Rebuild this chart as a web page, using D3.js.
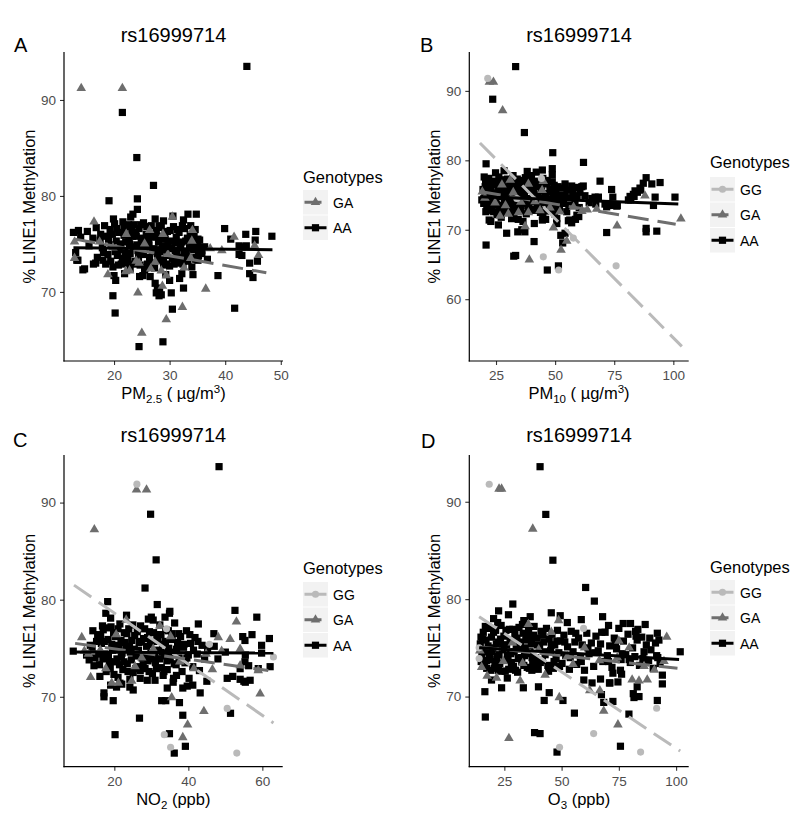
<!DOCTYPE html>
<html><head><meta charset="utf-8">
<script src="https://cdn.jsdelivr.net/npm/d3@7"></script>
<style>body{margin:0;background:#fff}svg{display:block}text{font-family:"Liberation Sans",Arial,sans-serif}</style>
</head><body>
<svg id="chart" width="800" height="817"></svg>
<script>
// ---------------- categories / labels ----------------
const genotypes = ["GG", "GA", "AA"];
const panelLetters = ["A", "B", "C", "D"];
const panelTitle = "rs16999714";
const yAxisTitle = "% LINE1 Methylation";
const legendTitle = "Genotypes";
const xTicksA = [20, 30, 40, 50];
const xTicksB = [25, 50, 75, 100];
const xTicksC = [20, 40, 60];
const xTicksD = [25, 50, 75, 100];
const yTicksA = [70, 80, 90];
const yTicksB = [60, 70, 80, 90];
const yTicksC = [70, 80, 90];
const yTicksD = [70, 80, 90];
const xLabelA = [["PM", ""], ["2.5", "sub"], [" ( \u00b5g/m", ""], ["3", "sup"], [")", ""]];
const xLabelB = [["PM", ""], ["10", "sub"], [" ( \u00b5g/m", ""], ["3", "sup"], [")", ""]];
const xLabelC = [["NO", ""], ["2", "sub"], [" (ppb)", ""]];
const xLabelD = [["O", ""], ["3", "sub"], [" (ppb)", ""]];

// ---------------- Panel A: PM2.5 ----------------
const aaA = [[43.9,93.5],[21.5,88.7],[24.1,84.0],[27.1,81.1],[19.1,79.5],[24.2,79.7],[24.2,78.6],[23.4,78.1],[33.3,78.1],[34.8,78.1],[32.5,77.5],[28.9,77.4],[39.9,76.6],[12.7,76.2],[13.6,76.4],[15.2,76.3],[43.7,76.0],[45.5,76.3],[48.4,75.8],[45.4,75.4],[43.1,74.7],[43.8,74.8],[42.5,73.9],[44.4,73.0],[45.8,73.2],[44.4,71.9],[45.0,71.5],[38.7,71.7],[34.2,71.8],[32.2,71.9],[13.1,74.1],[13.3,73.3],[14.4,72.3],[16.3,72.9],[20.0,71.7],[20.3,71.2],[19.8,69.6],[20.2,67.8],[24.5,64.3],[28.8,64.8],[41.7,68.3],[30.5,68.2],[32.5,70.4],[28.5,69.7],[30.3,69.9],[27.4,70.9],[27.8,70.3],[28.2,70.0],[25.2,71.7],[24.6,71.6],[25.5,72.3],[30.0,71.2],[31.8,71.4],[32.4,73.2],[35.1,73.3],[32.9,74.0],[35.4,74.4],[41.0,75.5],[42.5,74.8],[43.0,73.8],[14.7,72.4],[13.5,73.3],[16.7,73.0],[27.9,70.4],[27.6,69.9],[28.1,69.6],[34.2,75.7],[35.1,75.5],[34.8,73.6],[35.8,74.0],
[16.8,76.7],[17.5,75.4],[17.9,74.6],[18.3,76.9],[18.6,75.8],[18.9,73.9],[19.3,76.5],[19.5,74.9],[19.8,72.6],[20.1,77.1],[20.4,75.3],[20.6,73.8],[20.9,76.2],[21.1,74.4],[21.3,72.9],[21.6,77.3],[21.8,75.9],[22.0,74.1],[22.3,76.8],[22.5,73.5],[22.7,75.4],[22.9,72.4],[23.2,76.3],[23.4,74.7],[23.6,77.0],[23.8,73.2],[24.0,75.8],[24.3,74.3],[24.5,76.6],[24.7,72.8],[24.9,75.1],[25.1,73.9],[25.3,77.2],[25.6,74.6],[25.8,76.0],[26.0,72.9],[26.2,75.5],[26.4,73.6],[26.7,76.9],[26.9,74.2],[27.1,75.7],[27.3,72.5],[27.6,76.4],[27.8,74.0],[28.0,75.2],[28.2,73.3],[28.5,76.7],[28.7,74.8],[28.9,72.8],[29.1,75.9],[29.4,73.8],[29.6,76.3],[29.8,74.5],[30.0,72.7],[30.3,75.3],[30.5,73.5],[30.7,76.8],[31.0,74.3],[31.2,75.7],[31.5,73.0],[31.7,76.2],[31.9,74.6],[32.2,75.2],[32.4,72.9],[32.7,76.6],[33.0,74.1],[33.2,75.6],[33.5,73.6],[33.8,76.9],[34.1,74.8],[34.4,75.9],[34.7,73.4],[35.0,74.9],[35.4,75.4],[35.8,74.3],[36.3,74.7],[21.9,71.9],[26.5,71.6],[29.3,71.8],[17.0,73.6],[19.9,77.6],[23.0,77.8],[27.4,77.6],[30.6,77.9],[25.0,74.5],[28.4,74.4],[31.3,74.0],[22.8,75.0],[33.6,74.6],
[17.6,76.0],[18.1,74.1],[18.5,72.9],[19.0,75.5],[19.4,73.2],[19.7,76.0],[20.2,74.2],[20.5,76.6],[20.8,72.8],[21.2,75.0],[21.5,73.5],[21.8,76.6],[22.1,75.2],[22.4,73.0],[22.6,77.0],[22.9,74.0],[23.3,75.8],[23.5,72.9],[23.9,76.2],[24.1,74.9],[24.4,73.6],[24.8,77.0],[25.0,75.6],[25.3,74.0],[25.7,72.5],[25.9,76.8],[26.3,74.9],[26.6,73.0],[26.8,75.9],[27.2,74.5],[27.5,76.0],[27.9,73.6],[28.1,76.9],[28.3,75.8],[28.6,74.2],[28.9,73.3],[29.2,75.5],[29.5,72.9],[29.7,74.9],[30.1,76.4],[30.4,74.6],[30.8,72.9],[31.1,75.1],[31.4,76.5],[31.6,73.6],[32.0,74.9],[32.3,76.9],[32.6,73.9],[32.9,75.3],[33.3,73.2],[33.7,75.9],[34.0,72.6],[34.3,74.4],[34.6,76.5],[35.2,73.8],[18.0,73.3],[16.2,75.6],[15.5,74.8],[14.0,75.7],[36.8,73.4]];
const gaA = [[14.1,91.3],[21.5,91.3],[25.0,65.8],[29.4,67.2],[32.3,68.5],[28.7,70.7],[24.3,70.0],[36.5,70.4],[18.9,71.9],[29.4,71.8],[41.6,75.8],[45.3,74.9],[46.0,73.9],[39.4,74.4],[37.3,74.6],[34.1,76.5],[34.0,75.4],[30.5,77.9],[16.4,77.4],[12.9,75.3],[12.9,73.6],[17.4,75.3],[22.1,72.2],[22.8,72.3],[24.0,73.3],[24.5,73.1],[26.6,72.5],[28.5,72.3],[32.6,72.6],[33.8,73.6],[25.5,75.1],[26.4,76.5],[28.8,76.1],[29.7,74.0],[22.2,76.1],[19.8,74.7],[27.4,73.2]];
const ggA = [];
const fitGA_A = [[12.9,75.5],[47.4,72.0]];
const fitAA_A = [[12.7,74.6],[48.5,74.4]];

// ---------------- Panel B: PM10 ----------------
const aaB = [[33.3,93.5],[23.6,88.8],[37.0,84.0],[49.0,81.1],[20.8,79.5],[62.0,79.7],[69.0,77.0],[88.5,77.5],[94.4,76.8],[90.9,76.6],[87.3,76.7],[85.9,76.0],[83.8,75.6],[83.1,75.1],[81.7,74.8],[81.0,74.3],[92.3,74.7],[100.7,74.7],[91.6,73.5],[74.4,74.7],[71.8,73.3],[73.9,73.5],[76.3,73.5],[71.8,69.6],[88.5,69.7],[88.5,70.2],[93.0,69.8],[68.3,74.7],[61.3,76.2],[20.8,67.8],[32.5,66.2],[33.3,66.3],[46.7,64.2],[51.4,64.8],[53.2,68.1],[41.1,68.3],[34.2,69.7],[37.2,69.7],[29.5,69.5],[56.2,71.4],[58.6,71.5],[60.0,71.9],[52.4,69.2],[44.8,72.1],[50.7,71.6],[44.6,78.6],[48.8,78.8],[48.8,77.9],[73.9,75.8],[86.2,75.7],[84.8,75.4],[83.4,74.8],[82.0,74.3],[20.7,72.6],[22.1,71.4],[22.8,71.2],[26.0,70.7],[34.4,71.5],[35.9,70.0],[41.2,70.9],[44.6,71.4],[50.7,70.9],[55.6,71.3],[57.0,71.0],[59.2,72.1],[54.9,72.6],[54.2,76.6],[57.0,76.3],[59.8,76.1],[61.9,76.3],[60.5,75.4],[62.6,74.9],[65.5,74.5],[66.9,74.7],[64.4,73.9],[67.2,73.7],[71.1,73.7],[76.1,73.4],[54.2,69.5],[38.2,78.4],[40.0,77.8],
[19.5,75.8],[20.2,74.6],[20.6,76.9],[21.1,73.4],[21.5,75.3],[21.9,77.4],[22.3,74.1],[22.7,76.2],[23.0,72.8],[23.4,75.0],[23.8,77.0],[24.2,73.7],[24.6,76.5],[25.0,74.4],[25.4,72.2],[25.8,75.7],[26.2,77.6],[26.6,73.1],[27.0,74.9],[27.4,76.7],[27.8,72.6],[28.2,75.4],[28.6,73.9],[29.0,76.1],[29.4,74.3],[29.8,77.3],[30.2,72.9],[30.6,75.1],[31.0,76.6],[31.4,73.5],[31.8,74.7],[32.2,77.8],[32.6,72.4],[33.0,75.9],[33.4,74.0],[33.8,76.8],[34.2,73.2],[34.6,75.5],[35.0,77.1],[35.4,72.7],[35.8,74.8],[36.2,76.3],[36.6,73.8],[37.0,75.3],[37.4,77.5],[37.8,72.3],[38.2,74.5],[38.6,76.0],[39.0,73.4],[39.4,75.7],[39.8,77.2],[40.3,74.1],[40.8,76.4],[41.3,72.8],[41.8,75.0],[42.3,73.6],[42.8,76.8],[43.3,74.6],[43.8,72.5],[44.3,75.6],[44.8,77.4],[45.3,73.9],[45.8,75.2],[46.3,76.6],[46.8,72.7],[47.3,74.4],[47.8,75.9],[48.3,73.3],[48.8,76.9],[49.3,74.9],[49.8,72.3],[50.3,75.5],[50.8,74.0],[51.3,76.2],[51.8,73.1],[52.4,75.0],[53.0,76.0],[53.6,73.8],[54.2,74.8],[55.0,75.7],[55.8,73.5],[56.6,74.6],[57.5,75.4],[58.4,73.9],[59.3,74.9],[60.2,73.2],[24.8,78.2],[28.4,78.5],[31.6,71.6],[36.4,71.2],[42.0,78.3],[46.0,71.5],[27.2,71.8],
[19.8,73.8],[20.4,76.2],[20.9,74.0],[21.3,76.5],[21.8,72.9],[22.2,75.6],[22.6,73.3],[23.2,76.6],[23.6,74.5],[24.0,72.6],[24.4,75.3],[24.9,76.9],[25.3,73.6],[25.7,74.8],[26.1,72.5],[26.5,75.9],[27.1,73.5],[27.6,75.6],[28.0,77.2],[28.5,74.6],[28.9,72.8],[29.3,75.6],[29.7,73.2],[30.1,76.2],[30.5,74.0],[31.0,75.5],[31.5,72.6],[32.0,74.3],[32.4,76.3],[32.9,73.6],[33.5,75.1],[34.0,77.3],[34.4,74.5],[35.0,76.0],[35.6,73.5],[36.1,75.1],[36.8,77.0],[37.3,74.0],[37.9,75.8],[38.5,73.0],[39.1,76.6],[39.7,74.4],[40.5,72.9],[41.0,75.5],[41.6,77.0],[42.5,74.9],[43.0,72.9],[43.7,76.2],[44.4,74.0],[45.1,72.8],[46.0,74.9],[46.6,77.1],[47.5,73.7],[48.1,75.4],[49.0,73.9],[49.6,76.4],[50.5,72.9],[51.5,74.6],[19.0,74.3],[20.0,77.6]];
const gaB = [[22.2,91.4],[23.9,91.4],[27.8,87.3],[39.1,65.8],[52.5,67.2],[54.9,68.5],[49.3,70.4],[76.2,70.7],[103.2,71.7],[67.6,73.1],[61.3,72.8],[37.3,70.6],[34.5,72.6],[26.7,72.1],[30.2,72.4],[38.7,72.6],[43.6,72.9],[47.8,73.3],[20.3,74.7],[24.6,74.0],[38.7,76.7],[45.0,77.1],[32.3,75.5],[88.0,75.0],[19.2,75.6],[29.0,73.6],[41.5,74.2],[52.0,72.7],[57.8,73.4],[35.5,74.1],[27.5,76.6],[63.6,73.0],[44.5,75.8],[31.0,77.3]];
const ggB = [[21.5,91.8],[45.0,66.1],[51.5,64.2],[57.7,68.8],[75.8,64.8],[44.2,77.4],[33.8,74.5]];
const fitGG_B = [[18.2,82.5],[103.6,53.2]];
const fitGA_B = [[18.2,75.5],[101.0,70.8]];
const fitAA_B = [[18.2,74.75],[102.1,73.7]];

// ---------------- Panel C: NO2 ----------------
const aaC = [[48.3,93.7],[29.8,88.8],[31.3,84.1],[28.3,81.2],[18.2,79.8],[31.6,79.5],[30.0,78.2],[30.5,77.9],[35.0,78.8],[42.7,77.5],[52.6,78.9],[58.5,78.2],[54.7,76.2],[57.2,76.4],[61.9,76.0],[62.1,73.1],[59.8,74.5],[55.4,74.3],[56.3,73.2],[54.0,72.9],[52.0,72.1],[50.5,71.9],[51.4,68.3],[55.4,71.5],[56.7,71.7],[8.9,74.7],[17.2,70.4],[17.2,70.0],[20.2,66.1],[26.8,67.8],[32.8,69.6],[33.9,69.6],[37.6,69.4],[38.5,68.1],[39.2,64.9],[34.9,66.2],[36.2,64.2],[43.2,70.4],[41.2,71.2],[40.2,71.9],[19.7,69.6],[20.6,71.0],[21.5,71.4],[16.1,72.1],[17.7,78.6],[34.9,78.6],[46.9,76.5],[59.8,75.3],[55.3,75.8],[58.9,72.9],[55.3,73.6],[45.0,71.6],[34.3,70.9],[38.5,70.9],[39.7,71.1],[35.9,71.5],[36.8,72.2],[33.2,72.2],[19.0,71.2],[22.0,71.3],[24.2,71.0],[25.1,70.7],[24.2,71.8],[28.9,71.7],[54.0,71.8],[55.0,71.6],[48.0,73.9],[50.0,74.6],[47.0,75.2],
[12.5,74.3],[13.2,73.8],[14.0,75.1],[14.8,74.0],[15.5,76.4],[16.0,73.3],[16.5,75.5],[17.0,76.9],[17.4,74.4],[17.8,72.6],[18.3,75.9],[18.7,73.6],[19.1,77.2],[19.5,74.8],[19.9,72.3],[20.3,76.2],[20.7,73.9],[21.1,75.3],[21.5,77.5],[21.9,74.1],[22.3,72.8],[22.7,76.6],[23.1,75.0],[23.5,73.4],[23.9,77.0],[24.3,74.6],[24.7,75.8],[25.1,72.5],[25.5,76.3],[25.9,74.2],[26.3,73.1],[26.7,75.6],[27.1,77.3],[27.5,74.0],[27.9,76.0],[28.3,72.9],[28.7,75.2],[29.1,73.7],[29.5,76.7],[29.9,74.5],[30.3,72.4],[30.7,75.7],[31.1,73.5],[31.5,76.4],[31.9,74.8],[32.3,77.4],[32.7,73.0],[33.1,75.4],[33.5,74.2],[33.9,76.9],[34.3,72.8],[34.7,75.0],[35.1,73.8],[35.5,76.5],[35.9,74.6],[36.3,77.6],[36.7,73.3],[37.1,75.6],[37.5,74.0],[37.9,76.2],[38.3,72.6],[38.7,75.1],[39.1,73.5],[39.5,76.8],[40.0,74.3],[40.6,75.5],[41.2,73.1],[41.8,76.1],[42.4,74.4],[43.0,72.7],[43.7,75.3],[44.4,73.9],[45.2,74.9],[19.0,78.1],[23.3,78.4],[27.0,71.9],[31.0,71.7],[29.2,78.0],[36.0,71.9],[21.0,72.0],[16.8,77.3],[14.2,76.8],[33.7,78.2],
[13.5,75.3],[14.5,73.2],[15.2,75.7],[15.8,74.4],[16.3,76.2],[16.9,73.9],[17.3,75.7],[17.9,77.1],[18.4,74.2],[18.9,72.9],[19.3,75.4],[19.8,76.6],[20.1,73.6],[20.6,74.9],[21.0,77.0],[21.4,73.3],[21.8,75.8],[22.1,74.5],[22.6,73.6],[22.9,75.6],[23.4,76.5],[23.7,72.6],[24.1,75.2],[24.6,73.8],[25.0,77.4],[25.4,74.9],[25.8,72.9],[26.2,76.7],[26.5,74.8],[27.0,72.7],[27.3,75.7],[27.8,73.3],[28.2,77.0],[28.6,74.2],[29.0,76.1],[29.4,72.6],[29.8,75.4],[30.2,73.9],[30.6,76.6],[31.0,74.1],[31.4,72.9],[31.8,75.9],[32.2,73.9],[32.6,76.4],[33.0,74.6],[33.4,72.6],[33.8,75.7],[34.2,73.7],[34.6,76.8],[35.0,74.4],[35.6,75.9],[36.2,73.4],[36.8,74.9],[37.4,76.5],[38.0,73.7],[38.8,75.4],[39.6,74.0],[40.4,76.4],[41.4,74.8],[42.6,75.7]];
const gaC = [[14.6,87.3],[26.0,91.4],[28.7,91.4],[13.6,72.1],[35.5,70.0],[38.5,65.9],[39.8,67.2],[44.2,68.6],[59.4,70.4],[53.0,77.8],[48.1,76.2],[51.3,76.0],[54.0,75.0],[54.0,73.3],[58.9,72.8],[32.3,77.4],[23.2,78.0],[24.7,71.7],[19.3,71.5],[21.1,71.5],[17.7,73.0],[11.2,76.2],[11.9,74.8],[13.0,74.5],[27.4,74.1],[37.7,73.7],[44.8,74.5],[49.0,74.8],[20.5,76.5],[30.5,75.0],[35.2,76.3],[41.5,73.0],[16.2,74.9],[25.6,73.2],[46.5,72.9]];
const ggC = [[26.1,91.9],[33.5,66.1],[35.2,64.8],[53.1,64.2],[50.5,68.8],[63.0,74.1],[45.7,75.4],[34.1,77.0]];
const fitGG_C = [[9.1,81.5],[63.0,67.3]];
const fitGA_C = [[9.4,75.5],[61.6,72.7]];
const fitAA_C = [[8.6,74.6],[63.0,74.5]];

// ---------------- Panel D: O3 ----------------
const aaD = [[40.6,93.6],[43.1,88.7],[46.2,84.0],[60.5,81.2],[64.3,79.8],[28.7,79.5],[22.5,78.8],[36.3,78.2],[45.5,78.6],[49.4,78.3],[67.9,78.2],[76.9,77.5],[80.1,77.5],[82.3,76.7],[83.3,76.9],[91.8,76.5],[92.5,75.8],[101.8,74.6],[94.0,72.2],[94.0,71.3],[91.8,69.6],[81.3,70.3],[81.6,69.9],[79.4,68.2],[75.7,64.9],[48.0,64.3],[38.2,66.3],[40.6,66.2],[50.6,69.6],[42.4,69.6],[44.6,70.4],[55.6,68.3],[68.4,69.4],[16.5,70.5],[16.7,67.9],[19.4,71.7],[39.9,71.0],[59.7,71.7],[71.1,71.4],[75.7,72.7],[23.8,70.9],[26.3,71.9],[33.3,70.9],[63.3,71.4],[67.0,71.8],[70.9,71.4],[72.4,72.4],[74.6,71.5],[76.2,72.3],[83.0,71.0],[83.8,70.0],[67.4,70.2],[72.4,69.5],[37.0,72.7],[22.4,72.7],[17.3,73.7],[14.8,76.1],
[14.5,75.4],[15.2,74.3],[15.8,76.6],[16.4,73.2],[17.0,75.8],[17.6,74.6],[18.2,77.0],[18.8,73.8],[19.4,76.1],[20.0,75.0],[20.6,72.9],[21.2,76.8],[21.8,74.1],[22.4,75.6],[23.0,73.4],[23.6,77.3],[24.2,74.8],[24.8,76.2],[25.4,72.6],[26.0,75.3],[26.6,73.9],[27.2,76.9],[27.8,74.4],[28.4,75.7],[29.0,73.1],[29.6,76.4],[30.2,74.9],[30.8,72.5],[31.4,77.1],[32.0,75.2],[32.6,73.6],[33.2,76.5],[33.8,74.2],[34.4,75.8],[35.0,73.0],[35.6,76.9],[36.2,74.6],[36.8,75.4],[37.4,73.5],[38.0,77.2],[38.6,74.0],[39.2,76.0],[39.8,72.8],[40.4,75.1],[41.0,76.7],[41.6,73.7],[42.2,75.6],[42.8,74.3],[43.4,77.0],[44.0,73.2],[44.6,75.9],[45.2,74.7],[45.8,76.4],[46.4,72.9],[47.0,75.3],[47.6,73.9],[48.2,76.8],[48.8,74.5],[49.5,75.7],[50.2,73.4],[51.0,76.3],[51.8,74.2],[52.6,75.1],[53.4,72.8],[54.2,76.7],[55.0,74.6],[55.8,75.6],[56.6,73.3],[57.4,76.0],[58.2,74.0],[59.0,75.3],[60.0,72.7],[61.0,76.5],[62.0,74.4],[63.0,75.5],[64.0,73.1],[65.0,76.2],[66.0,74.7],[67.0,75.4],[68.0,73.6],[69.0,76.6],[70.0,74.2],[71.0,75.2],[72.0,73.0],[73.0,76.0],[74.0,74.9],[75.0,77.0],[76.0,73.8],[77.0,75.7],[78.0,74.3],[79.0,76.4],[80.0,73.5],[81.0,75.0],[82.0,74.1],[83.0,75.8],[84.0,73.2],[85.0,76.1],[86.0,74.6],[87.0,75.3],[88.0,73.7],[89.0,74.8],[90.0,72.9],[91.0,75.5],[92.0,74.0],[93.0,73.4],[20.3,78.0],[26.8,78.4],[33.5,77.8],[52.5,77.6],[58.6,77.9],[70.5,77.3],[86.5,77.4],
[14.9,73.6],[15.5,75.9],[16.1,74.8],[16.7,77.2],[17.3,72.9],[17.9,75.2],[18.5,74.0],[19.1,72.7],[19.7,74.6],[20.3,76.6],[20.9,73.6],[21.5,75.4],[22.1,77.6],[22.7,74.3],[23.3,75.9],[23.9,72.6],[24.5,75.3],[25.1,73.7],[25.7,76.8],[26.3,74.3],[26.9,72.8],[27.5,75.8],[28.1,73.5],[28.7,76.9],[29.3,74.6],[29.9,72.7],[30.5,76.0],[31.1,73.9],[31.7,75.6],[32.3,74.0],[32.9,77.4],[33.5,73.2],[34.1,75.0],[34.7,76.3],[35.3,74.4],[35.9,72.9],[36.5,75.9],[37.1,74.0],[37.7,76.3],[38.3,73.3],[39.5,75.3],[40.7,73.5],[41.9,76.3],[43.1,74.6],[44.3,72.6],[45.5,75.3],[46.7,73.6],[47.9,75.7],[49.1,73.1],[51.4,75.6],[53.8,74.0],[56.2,76.5],[58.6,73.6],[61.5,75.0],[64.5,74.5],[67.5,76.6],[70.5,73.6],[73.5,75.4],[76.5,74.4],[79.5,73.8],[82.5,76.2],[85.5,73.9],[88.5,76.0],[91.5,74.2]];
const gaD = [[22.7,91.4],[23.8,91.4],[37.4,87.3],[27.0,65.8],[74.6,67.2],[68.4,68.6],[66.7,70.7],[62.3,70.7],[49.0,70.0],[48.7,77.9],[95.9,76.2],[87.4,71.8],[83.8,71.7],[80.8,71.8],[17.5,72.2],[21.6,72.0],[31.9,71.7],[42.8,72.3],[35.5,77.5],[15.1,73.1],[14.3,74.8],[75.0,75.8],[66.5,73.8],[74.3,74.1],[94.7,73.7],[28.5,75.6],[40.0,74.9],[55.0,73.4],[86.0,73.2],[60.0,75.1],[24.5,73.7],[45.5,76.7],[33.0,73.5],[79.5,75.1],[52.5,74.2],[90.5,72.8]];
const ggD = [[18.4,91.8],[49.1,64.8],[64.0,66.2],[84.5,64.3],[91.5,68.8],[59.6,77.0],[14.0,75.0],[14.0,73.9]];
const fitGG_D = [[14.0,78.2],[101.8,64.4]];
const fitGA_D = [[14.3,75.1],[100.6,72.9]];
const fitAA_D = [[14.0,75.0],[101.3,73.8]];

// ---------------- styling / layout (not data) ----------------
const colors = { GG: "#bababa", GA: "#6e6e6e", AA: "#000000" };
const dashes = { GG: "21,9", GA: "21,9", AA: null };
const frames = [
  { left: 64, right: 283, top: 52, bottom: 361, xDom: [11, 50.4], yDom: [62.8, 95.0], legX: 303, legTitleY: 183, keyTop: 190, titleY: 42, letterX: 14, letterY: 52 },
  { left: 469.3, right: 688.7, top: 52, bottom: 361, xDom: [13.7, 106.5], yDom: [51.1, 95.6], legX: 710, legTitleY: 168, keyTop: 177, titleY: 42, letterX: 420, letterY: 52 },
  { left: 64, right: 282.7, top: 455, bottom: 766.7, xDom: [6.4, 65.5], yDom: [62.8, 94.9], legX: 303, legTitleY: 574, keyTop: 582, titleY: 442, letterX: 13, letterY: 447 },
  { left: 469.3, right: 688.7, top: 455, bottom: 766.7, xDom: [9.7, 105.5], yDom: [62.8, 94.8], legX: 710, legTitleY: 573, keyTop: 580, titleY: 442, letterX: 421, letterY: 448 }
];

const panels = [
  { xTicks: xTicksA, yTicks: yTicksA, xLabel: xLabelA, pts: { GG: ggA, GA: gaA, AA: aaA }, fits: { GA: fitGA_A, AA: fitAA_A }, legend: ["GA", "AA"] },
  { xTicks: xTicksB, yTicks: yTicksB, xLabel: xLabelB, pts: { GG: ggB, GA: gaB, AA: aaB }, fits: { GG: fitGG_B, GA: fitGA_B, AA: fitAA_B }, legend: genotypes },
  { xTicks: xTicksC, yTicks: yTicksC, xLabel: xLabelC, pts: { GG: ggC, GA: gaC, AA: aaC }, fits: { GG: fitGG_C, GA: fitGA_C, AA: fitAA_C }, legend: genotypes },
  { xTicks: xTicksD, yTicks: yTicksD, xLabel: xLabelD, pts: { GG: ggD, GA: gaD, AA: aaD }, fits: { GG: fitGG_D, GA: fitGA_D, AA: fitAA_D }, legend: genotypes }
];

const symbolFor = {
  GG: d3.symbol().type(d3.symbolCircle).size(40),
  GA: d3.symbol().type(d3.symbolTriangle).size(40),
  AA: d3.symbol().type(d3.symbolSquare).size(52)
};

const svg = d3.select("#chart");
svg.append("rect").attr("width", 800).attr("height", 817).attr("fill", "#fff");

panels.forEach((p, i) => {
  const f = frames[i];
  const x = d3.scaleLinear().domain(f.xDom).range([f.left, f.right]);
  const y = d3.scaleLinear().domain(f.yDom).range([f.bottom, f.top]);
  const g = svg.append("g");

  ["AA", "GA", "GG"].forEach(k => {
    g.append("g").selectAll("path").data(p.pts[k]).join("path")
      .attr("d", symbolFor[k])
      .attr("transform", d => `translate(${x(d[0])},${y(d[1]) + (k === "GA" ? 0.8 : 0)})`)
      .attr("fill", colors[k]);
  });

  const line = d3.line().x(d => x(d[0])).y(d => y(d[1]));
  ["GG", "GA", "AA"].forEach(k => {
    if (!p.fits[k]) return;
    g.append("path").datum(p.fits[k]).attr("d", line)
      .attr("fill", "none").attr("stroke", colors[k]).attr("stroke-width", 3)
      .attr("stroke-dasharray", dashes[k]);
  });

  const xAxis = d3.axisBottom(x).tickValues(p.xTicks).tickSize(4).tickPadding(4).tickSizeOuter(0);
  const yAxis = d3.axisLeft(y).tickValues(p.yTicks).tickSize(4).tickPadding(4).tickSizeOuter(0);
  const gx = g.append("g").attr("transform", `translate(0,${f.bottom})`).call(xAxis);
  const gy = g.append("g").attr("transform", `translate(${f.left},0)`).call(yAxis);
  [gx, gy].forEach(a => {
    a.select(".domain").remove();
    a.selectAll(".tick line").attr("stroke", "#333").attr("stroke-width", 1.1);
    a.selectAll(".tick text").attr("fill", "#4d4d4d").attr("font-size", 13.5)
      .attr("font-family", '"Liberation Sans",Arial,sans-serif');
  });
  gx.selectAll(".tick text").attr("dy", null).attr("y", 19);
  g.append("line").attr("x1", f.left).attr("x2", f.left).attr("y1", f.top).attr("y2", f.bottom + 0.6)
    .attr("stroke", "#000").attr("stroke-width", 1.2);
  g.append("line").attr("x1", f.left - 0.6).attr("x2", f.right).attr("y1", f.bottom).attr("y2", f.bottom)
    .attr("stroke", "#000").attr("stroke-width", 1.2);

  const xt = g.append("text").attr("x", (f.left + f.right) / 2).attr("y", f.bottom + 38)
    .attr("text-anchor", "middle").attr("font-size", 16.5).attr("fill", "#000");
  let shift = 0;
  p.xLabel.forEach(([t, s]) => {
    const target = s === "sub" ? 4 : s === "sup" ? -6 : 0;
    xt.append("tspan").attr("dy", target - shift).attr("font-size", s ? 11.5 : 16.5).text(t);
    shift = target;
  });

  g.append("text").attr("transform", `translate(${f.left - 29},${(f.top + f.bottom) / 2}) rotate(-90)`)
    .attr("text-anchor", "middle").attr("font-size", 16.5).attr("fill", "#000").text(yAxisTitle);

  g.append("text").attr("x", (f.left + f.right) / 2).attr("y", f.titleY).attr("text-anchor", "middle")
    .attr("font-size", 20).attr("fill", "#000").text(panelTitle);
  g.append("text").attr("x", f.letterX).attr("y", f.letterY).attr("font-size", 20).attr("fill", "#000")
    .text(panelLetters[i]);

  const lg = g.append("g");
  lg.append("text").attr("x", f.legX).attr("y", f.legTitleY).attr("font-size", 16.5).attr("fill", "#000").text(legendTitle);
  p.legend.forEach((k, j) => {
    const ky = f.keyTop + j * 25.5;
    lg.append("rect").attr("x", f.legX).attr("y", ky).attr("width", 25).attr("height", 24.5).attr("fill", "#f2f2f2");
    lg.append("line").attr("x1", f.legX + 1.5).attr("x2", f.legX + 23.5).attr("y1", ky + 12.25).attr("y2", ky + 12.25)
      .attr("stroke", colors[k]).attr("stroke-width", 3).attr("stroke-dasharray", k === "GA" ? "17,9" : null);
    lg.append("path").attr("d", symbolFor[k]).attr("transform", `translate(${f.legX + 12.5},${ky + 12.25})`).attr("fill", colors[k]);
    lg.append("text").attr("x", f.legX + 30).attr("y", ky + 17.5).attr("font-size", 14).attr("fill", "#000").text(k);
  });
});
</script>
</body></html>
